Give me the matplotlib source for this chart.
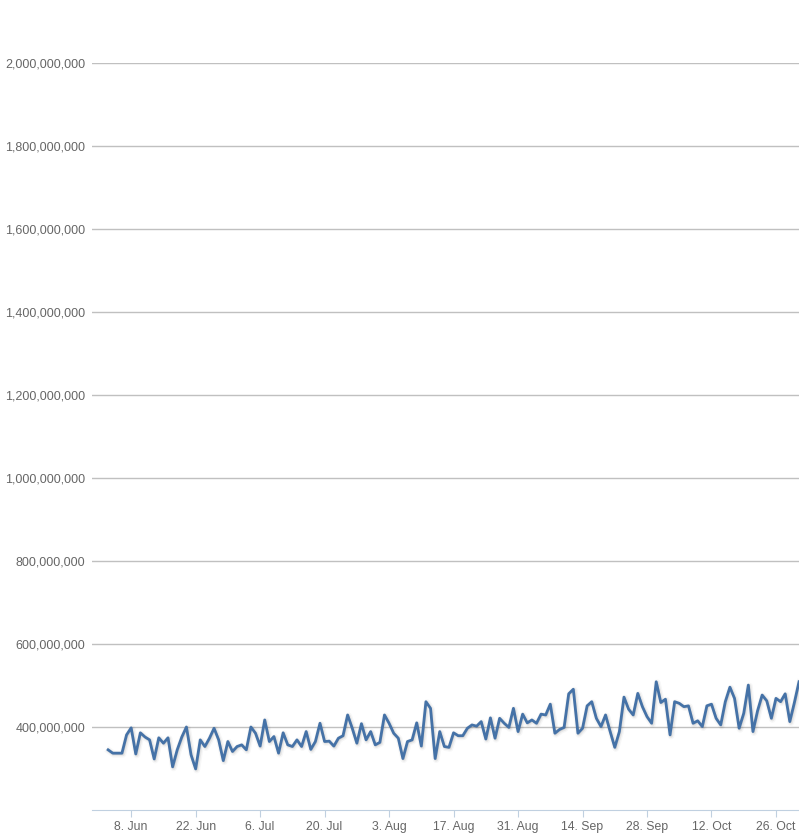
import numpy as np
import pandas as pd
import matplotlib
matplotlib.use("Agg")
import matplotlib.pyplot as plt
import matplotlib.transforms as mtransforms

plt.rcParams["font.family"] = ["Liberation Sans", "DejaVu Sans"]

# daily values, 3 Jun - 31 Oct (millions)
start_date = "2015-06-03"
values_m = [
    345, 337, 337, 337, 381, 398, 335, 386, 376, 369, 323, 374, 361, 374, 304, 345, 376, 400, 333, 299,
    369, 353, 373, 397, 369, 319, 365, 341, 353, 357, 345, 400, 385, 354, 417, 365, 377, 337, 386, 357, 353, 369,
    353, 389, 346, 365, 409, 365, 366, 354, 373, 379, 429, 397, 361, 408, 369, 389, 357, 363, 429, 409, 385, 373,
    324, 365, 369, 410, 354, 461, 445, 324, 389, 353, 351, 386, 379, 379, 397, 405, 402, 413, 371, 422, 373,
    421, 409, 399, 445, 389, 431, 410, 417, 409, 431, 429, 455, 385, 394, 399, 480, 491, 385, 397, 451, 461, 421,
    401, 429, 389, 351, 389, 472, 443, 429, 481, 449, 425, 409, 509, 459, 467, 381, 461, 457, 449, 451, 409, 415,
    401, 451, 455, 421, 405, 461, 496, 469, 397, 433, 501, 389, 439, 477, 463, 421, 469, 461, 480, 413, 459, 509,
]
dates = pd.date_range(start_date, periods=len(values_m), freq="D")
values = np.array(values_m) * 1e6

y_ticks = np.arange(400e6, 2000e6 + 1, 200e6)
x_ticks = pd.date_range("2015-06-08", "2015-10-31", freq="14D")

fig = plt.figure(figsize=(7.99, 8.39), dpi=100)
ax = fig.add_axes([92 / 799, (839 - 810) / 839, 1 - 92 / 799, (810 - 63) / 839])

# shadow like highcharts
for lw, a in [(5, 0.03), (3, 0.06), (1, 0.1)]:
    tr = ax.transData + mtransforms.ScaledTranslation(0.01, -0.01, fig.dpi_scale_trans)
    ax.plot(dates, values, color="black", lw=lw, alpha=a, transform=tr, solid_joinstyle="round")
ax.plot(dates, values, color="#4572A7", lw=2, solid_joinstyle="round", zorder=3)

ax.set_ylim(200e6, 2000e6)
ax.set_xlim(pd.Timestamp("2015-05-30 12:00"), pd.Timestamp("2015-10-31"))

ax.set_yticks(y_ticks)
ax.set_yticklabels([f"{v:,.0f}" for v in y_ticks])
ax.set_xticks(x_ticks)
ax.set_xticklabels([f"{d.day}. {d:%b}" for d in x_ticks])

ax.grid(axis="y", color="#C0C0C0", lw=1)
ax.set_axisbelow(True)
for s in ["top", "right", "left"]:
    ax.spines[s].set_visible(False)
ax.spines["bottom"].set_color("#C0D0E0")
ax.tick_params(axis="y", length=0, pad=5, labelsize=9, labelcolor="#666666")
ax.tick_params(axis="x", length=5, color="#C0D0E0", pad=3, labelsize=8.8, labelcolor="#666666")

fig.savefig("out.png", dpi=100)
